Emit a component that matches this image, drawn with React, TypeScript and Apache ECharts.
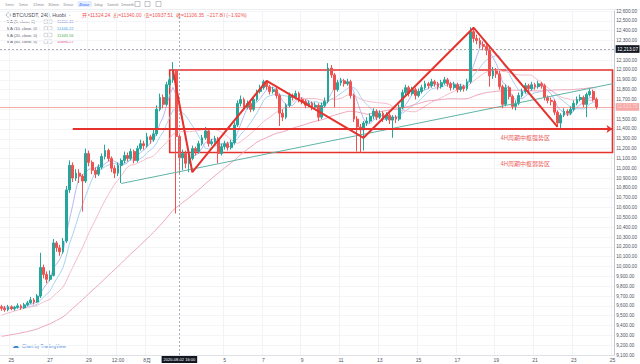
import React, { useEffect, useRef } from "react";
import * as echarts from "echarts";

// ---------- data (4H candles, BTC/USDT Huobi) ----------
// closes before the first visible candle (only used by the moving averages)
const priorCloses = [
  9270, 9260,
  9240, 9250, 9220, 9200, 9210, 9190,
  9180, 9150, 9120, 9130, 9110, 9140,
  9150, 9160, 9140, 9150, 9170, 9160,
  9170, 9180, 9190, 9170, 9160, 9180,
  9170, 9190, 9210, 9200, 9220, 9230,
  9210, 9180, 9160, 9150, 9170, 9160,
  9180, 9250, 9320, 9380, 9370, 9390,
  9400, 9380, 9420, 9500, 9530, 9520,
  9560, 9580, 9600, 9590, 9620, 9610,
  9600, 9580, 9570,
];

const firstOpen = 9590;

const closes = [
  9575, 9560, 9590, 9570, 9585, 9600, 9580, 9610, 9630, 9660,
  9640, 9700, 9990, 9920, 9870, 9910, 10240, 10190, 10150, 10260,
  10780, 11030, 10900, 10950, 10920, 10870, 11150, 11060, 10980, 10940,
  11010, 11120, 11180, 11100, 11000, 10950, 11030, 11080, 11130, 11100,
  11170, 11080, 11200, 11250, 11230, 11320, 11290, 11350, 11600, 11720,
  11650, 11850, 11900, 11990, 11324.24, 11106.35, 11150, 11050, 11100, 11200,
  11170, 11250, 11310, 11380, 11250, 11270, 11300, 11150, 11220, 11250,
  11210, 11260, 11440, 11660, 11700, 11620, 11660, 11600, 11700, 11780,
  11820, 11880, 11830, 11780, 11800, 11740, 11560, 11520, 11640, 11740,
  11720, 11760, 11700, 11680, 11640, 11660, 11620, 11640, 11520, 11640,
  11680, 12020, 11950, 11800, 11870, 11890, 11860, 11880, 11740, 11500,
  11420, 11390, 11460, 11480, 11530, 11580, 11520, 11560, 11500, 11540,
  11490, 11520, 11500, 11620, 11770, 11820, 11760, 11800, 11740, 11780,
  11820, 11860, 11840, 11880, 11860, 11830, 11870, 11900, 11860, 11820,
  11850, 11800, 11830, 11810, 11880, 12390, 12320, 12300, 12260, 12240,
  12200, 11940, 11990, 11960, 11830, 11650, 11820, 11730, 11630, 11660,
  11740, 11780, 11840, 11810, 11850, 11830, 11860, 11840, 11720, 11690,
  11680, 11570, 11460, 11540, 11580, 11560, 11600, 11660, 11700, 11720,
  11650, 11750, 11780, 11700, 11623.75,
];

const lows = [
  9550, 9540, 9545, 9555, 9550, 9570, 9560, 9570, 9595, 9620,
  9615, 9630, 9680, 9880, 9830, 9850, 9900, 10150, 10110, 10130,
  10240, 10750, 10860, 10870, 10850, 10560, 10850, 11020, 10940, 10900,
  10920, 10990, 11090, 11070, 10960, 10900, 10920, 10850, 11050, 11070,
  11080, 11050, 11060, 11180, 11190, 11210, 11250, 11270, 11330, 11580,
  11610, 11630, 11820, 11870, 10540, 10937.51, 10980, 11000, 10960, 11080,
  11130, 11150, 11230, 11290, 11220, 11230, 11250, 11050, 11130, 11190,
  11180, 11190, 11240, 11420, 11630, 11590, 11600, 11570, 11580, 11680,
  11760, 11800, 11800, 11750, 11760, 11710, 11430, 11480, 11500, 11620,
  11690, 11700, 11670, 11650, 11610, 11620, 11590, 11600, 11480, 11500,
  11620, 11660, 11920, 11620, 11780, 11840, 11830, 11840, 11710, 11470,
  11170, 11160, 11180, 11430, 11460, 11500, 11490, 11500, 11470, 11480,
  11450, 11310, 11460, 11480, 11600, 11740, 11730, 11740, 11700, 11720,
  11760, 11800, 11810, 11820, 11830, 11800, 11810, 11850, 11830, 11790,
  11800, 11770, 11780, 11780, 11790, 11860, 12280, 12260, 12220, 12200,
  12150, 11830, 11910, 11920, 11800, 11610, 11630, 11700, 11600, 11590,
  11640, 11720, 11760, 11780, 11790, 11800, 11810, 11810, 11690, 11660,
  11640, 11540, 11420, 11410, 11520, 11530, 11540, 11580, 11640, 11680,
  11620, 11520, 11730, 11680, 11600,
];

const highs = [
  9610, 9600, 9610, 9605, 9600, 9625, 9615, 9630, 9650, 9690,
  9680, 9720, 10140, 10020, 9950, 9960, 10280, 10260, 10220, 10290,
  10820, 11080, 11060, 10990, 10990, 10940, 11200, 11180, 11080, 11010,
  11040, 11150, 11240, 11200, 11120, 11030, 11060, 11100, 11170, 11160,
  11200, 11190, 11230, 11290, 11280, 11360, 11340, 11390, 11640, 11760,
  11750, 11880, 11940, 12080, 12010, 11340, 11190, 11180, 11130, 11230,
  11220, 11280, 11340, 11420, 11400, 11300, 11330, 11320, 11250, 11280,
  11270, 11290, 11470, 11690, 11740, 11720, 11690, 11680, 11720, 11800,
  11850, 11900, 11895, 11850, 11830, 11820, 11760, 11600, 11660, 11770,
  11760, 11790, 11780, 11720, 11700, 11690, 11680, 11670, 11660, 11670,
  11720, 12070, 12050, 11970, 11900, 11920, 11910, 11910, 11900, 11760,
  11530, 11450, 11480, 11520, 11560, 11610, 11600, 11590, 11580, 11570,
  11560, 11540, 11540, 11650, 11800, 11850, 11840, 11830, 11820, 11810,
  11850, 11890, 11880, 11910, 11900, 11880, 11900, 11930, 11920, 11880,
  11880, 11870, 11860, 11850, 11910, 12435, 12420, 12360, 12330, 12290,
  12270, 12230, 12030, 12020, 11990, 11850, 11850, 11840, 11750, 11690,
  11770, 11810, 11870, 11860, 11880, 11870, 11890, 11880, 11860, 11740,
  11720, 11700, 11590, 11560, 11610, 11600, 11630, 11690, 11730, 11750,
  11740, 11770, 11810, 11800, 11720,
];

// time axis
const firstCandleTime = Date.UTC(2020, 6, 24, 12, 0);
const slotCount = 190;
const xTickIdx = [3, 15, 27, 36, 45, 69, 81, 93, 105, 117, 129, 141, 153, 165, 177, 189];
const xTickText = ["25", "27", "29", "12:00", "8月", "5", "7", "9", "11", "13", "15", "17", "19", "21", "23", "25"];

// price axis
const yMin = 9100;
const yMax = 12600;
const yStep = 100;

// crosshair / header
const hoverIdx = 55;
const crosshairPrice = 12213.07;
const hoverTimeText = "2020-08-02 16:00";
const changeText = "−217.88 (−1.92%)";
const symbolText = "BTC/USDT, 240, Huobi  ·";

// moving averages
const maPeriods = [5, 10, 20, 60];
const maLegendValues = ["11400.46", "11444.22", "11343.56", "10890.27"];

// drawings
const zigzagIdx = [53, 59, 82, 112, 146, 172];
const zigzagPrice = [12000, 10960, 11890, 11310, 12430, 11420];
const trendIdx = [37, 189];
const trendPrice = [10845, 11860];
const boxIdx = [52, 189];
const boxPrice = [12000, 11160];
const arrowIdx = [22, 189];
const arrowPrice = 11400;
const noteIdx = [162, 162];
const notePrice = [11310, 11045];
const noteText = ["4H周期中枢强势区", "4H周期中枢弱势区"];

const toolbarItems = ["1min", "5min", "15min", "30min", "1hour", "4hour", "1day", "1week", "1month"];
const toolbarActive = 5;

// ---------- helpers ----------
const pad = (n: number) => String(n).padStart(2, "0");
const categories = Array.from({ length: slotCount }, (_, i) => {
  const d = new Date(firstCandleTime + i * 4 * 3600 * 1000);
  return `${d.getUTCFullYear()}-${pad(d.getUTCMonth() + 1)}-${pad(d.getUTCDate())} ${pad(d.getUTCHours())}:00`;
});
const fmt = (v: number) =>
  v.toLocaleString("en-US", { minimumFractionDigits: 2, maximumFractionDigits: 2 });

const candleData = closes.map((c, i) => [i === 0 ? firstOpen : closes[i - 1], c, lows[i], highs[i]]);

const allCloses = [...priorCloses, ...closes];
function movingAverage(n: number) {
  return closes.map((_, i) => {
    const end = i + priorCloses.length;
    if (end - n + 1 < 0) return null;
    let s = 0;
    for (let k = end - n + 1; k <= end; k++) s += allCloses[k];
    return +(s / n).toFixed(2);
  });
}

const FONT = "'Liberation Sans', 'Noto Sans CJK SC', sans-serif";
const UP = "#26a69a";
const DOWN = "#ef5350";
const DRAW_RED = "#e5322d";
const maLineColors = ["#b3baf0", "#a7d2f0", "#f5bccb", "#eea6bd"];
const maTextColors = ["#7076dc", "#4a9ddc", "#4caf50", "#d9438e"];

export default function App() {
  const ref = useRef<HTMLDivElement>(null);

  useEffect(() => {
    if (!ref.current) return;
    const chart = echarts.init(ref.current, undefined, { renderer: "svg" });

    const hv = candleData[hoverIdx];
    const ohlcText = `开=${hv[0].toFixed(2)}  高=${hv[3].toFixed(2)}  低=${hv[2].toFixed(2)}  收=${hv[1].toFixed(2)}  ${changeText}`;
    const lastClose = closes[closes.length - 1];
    // price-axis labels hidden where the last-price and crosshair tags sit
    const taggedPrices = [lastClose, crosshairPrice];

    const toolbarX = [5, 19, 33, 48, 63, 79, 94, 107, 121];
    const graphics: any[] = [];
    graphics.push({
      type: "line",
      shape: { x1: 0, y1: 9.5, x2: 640, y2: 9.5 },
      style: { stroke: "#eceef2", lineWidth: 1 },
      silent: true,
    });
    toolbarItems.forEach((t, k) => {
      const x = toolbarX[k];
      if (k === toolbarActive) {
        graphics.push({
          type: "rect",
          shape: { x: x - 1.5, y: 1, width: t.length * 2.3 + 3, height: 6, r: 1 },
          style: { fill: "#e3edff" },
          silent: true,
        });
      }
      graphics.push({
        type: "text",
        x,
        y: 4,
        style: {
          text: t,
          fontSize: 4,
          fontFamily: FONT,
          fill: k === toolbarActive ? "#2962ff" : "#8a8d96",
          verticalAlign: "middle",
        },
        silent: true,
      });
    });
    [135, 145, 156].forEach((x) => {
      graphics.push({
        type: "rect",
        shape: { x, y: 1.5, width: 5, height: 5 },
        style: { fill: "none", stroke: "#9a9da6", lineWidth: 0.6 },
        silent: true,
      });
    });

    graphics.push({
      type: "circle",
      shape: { cx: 8.5, cy: 15, r: 2.2 },
      style: { fill: "none", stroke: "#9a9da6", lineWidth: 0.7 },
      silent: true,
    });
    graphics.push({
      type: "text",
      x: 12.5,
      y: 15,
      style: { text: symbolText, fontSize: 5.2, fontFamily: FONT, fill: "#4a4d57", verticalAlign: "middle" },
      silent: true,
    });
    graphics.push({
      type: "text",
      x: 82,
      y: 15,
      style: { text: ohlcText, fontSize: 5, fontFamily: FONT, fill: DOWN, verticalAlign: "middle" },
      silent: true,
    });

    maPeriods.forEach((p, k) => {
      const y = 21.7 + k * 6.67;
      graphics.push({
        type: "text",
        x: 7,
        y,
        style: { text: `MA (${p}, close, 0)  ·`, fontSize: 4, fontFamily: FONT, fill: "#5d606b", verticalAlign: "middle" },
        silent: true,
      });
      [44, 48.5].forEach((bx) => {
        graphics.push({
          type: "rect",
          shape: { x: bx, y: y - 1.8, width: 3.5, height: 3.5 },
          style: { fill: "none", stroke: "#b0b3bb", lineWidth: 0.5 },
          silent: true,
        });
      });
      graphics.push({
        type: "text",
        x: 57,
        y,
        style: { text: maLegendValues[k], fontSize: 4, fontFamily: FONT, fill: maTextColors[k], verticalAlign: "middle" },
        silent: true,
      });
    });

    graphics.push({
      type: "text",
      x: 12,
      y: 346,
      style: { text: "☁", fontSize: 7, fontFamily: "'DejaVu Sans'", fill: "#3d85d8", verticalAlign: "middle" },
      silent: true,
    });
    graphics.push({
      type: "text",
      x: 22,
      y: 346,
      style: { text: "Chart by TradingView", fontSize: 4.6, fontFamily: FONT, fill: "#5a8fd6", verticalAlign: "middle" },
      silent: true,
    });

    const isTick = (index: number) => xTickIdx.indexOf(index) >= 0;

    const option: any = {
      animation: false,
      backgroundColor: "#ffffff",
      textStyle: { fontFamily: FONT },
      grid: { left: 0, right: 23, top: 11, bottom: 9 },
      xAxis: {
        type: "category",
        data: categories,
        boundaryGap: true,
        axisLine: { show: true, lineStyle: { color: "#dfe1e6", width: 1 } },
        axisTick: { show: false },
        axisLabel: {
          interval: (index: number) => isTick(index),
          formatter: (_v: string, index: number) => {
            const k = xTickIdx.indexOf(index);
            return k >= 0 ? xTickText[k] : "";
          },
          fontSize: 5,
          color: "#50535e",
          margin: 2.5,
        },
        splitLine: {
          show: true,
          interval: (index: number) => isTick(index),
          lineStyle: { color: "#f1f3f7", width: 1 },
        },
      },
      yAxis: {
        type: "value",
        position: "right",
        min: yMin,
        max: yMax,
        interval: yStep,
        axisLine: { show: true, lineStyle: { color: "#c4c7ce", width: 1 } },
        axisTick: { show: false },
        axisLabel: {
          fontSize: 4.7,
          color: "#50535e",
          margin: 2,
          formatter: (v: number) =>
            taggedPrices.some((t) => Math.abs(t - v) < 70) ? "" : fmt(v),
        },
        splitLine: { show: true, lineStyle: { color: "#f4f5f8", width: 1 } },
      },
      series: [
        {
          type: "candlestick",
          data: candleData,
          barWidth: "72%",
          z: 3,
          itemStyle: { color: UP, color0: DOWN, borderColor: UP, borderColor0: DOWN, borderWidth: 1 },
          markArea: {
            silent: true,
            itemStyle: { color: "rgba(0,0,0,0)", borderColor: DRAW_RED, borderWidth: 1.6 },
            data: [
              [
                { xAxis: categories[boxIdx[0]], yAxis: boxPrice[0] },
                { xAxis: categories[boxIdx[1]], yAxis: boxPrice[1] },
              ],
            ],
          },
          markLine: {
            silent: true,
            symbol: ["none", "none"],
            animation: false,
            data: [
              {
                yAxis: lastClose,
                lineStyle: { color: DOWN, width: 1, type: "solid", opacity: 0.5 },
                label: {
                  show: true,
                  position: "end",
                  formatter: fmt(lastClose),
                  backgroundColor: DOWN,
                  color: "#ffffff",
                  fontSize: 4.7,
                  padding: [1.5, 1.5],
                  distance: 1.5,
                },
              },
              {
                yAxis: crosshairPrice,
                lineStyle: { color: "#9598a1", width: 0.8, type: [2, 2] },
                label: {
                  show: true,
                  position: "end",
                  formatter: fmt(crosshairPrice),
                  backgroundColor: "#131722",
                  color: "#ffffff",
                  fontSize: 4.7,
                  padding: [1.5, 1.5],
                  distance: 1.5,
                },
              },
              {
                xAxis: categories[hoverIdx],
                lineStyle: { color: "#9598a1", width: 0.8, type: [2, 2] },
                label: {
                  show: true,
                  position: "start",
                  formatter: hoverTimeText,
                  backgroundColor: "#131722",
                  color: "#ffffff",
                  fontSize: 4,
                  padding: [1.5, 2],
                  distance: 1,
                },
              },
            ],
          },
        },
        ...maPeriods.map((p, k) => ({
          type: "line",
          name: `MA${p}`,
          data: movingAverage(p),
          symbol: "none",
          showSymbol: false,
          silent: true,
          z: 2,
          lineStyle: { color: maLineColors[k], width: 1 },
        })),
        {
          type: "line",
          name: "trend",
          data: trendIdx.map((k, j) => [categories[k], trendPrice[j]]),
          symbol: "none",
          silent: true,
          z: 4,
          lineStyle: { color: "#5fb3a6", width: 1 },
        },
        {
          type: "line",
          name: "zigzag",
          data: zigzagIdx.map((k, j) => [categories[k], zigzagPrice[j]]),
          symbol: "none",
          silent: true,
          z: 5,
          lineStyle: { color: DRAW_RED, width: 2 },
          markLine: {
            silent: true,
            symbol: ["none", "arrow"],
            symbolSize: 6,
            animation: false,
            label: { show: false },
            lineStyle: { color: DRAW_RED, width: 2, type: "solid" },
            data: [
              [
                { coord: [categories[arrowIdx[0]], arrowPrice] },
                { coord: [categories[arrowIdx[1]], arrowPrice] },
              ],
            ],
          },
        },
        {
          type: "scatter",
          name: "notes",
          data: noteIdx.map((k, j) => ({
            value: [categories[k], notePrice[j]],
            label: { formatter: noteText[j] },
          })),
          symbolSize: 1,
          silent: true,
          z: 6,
          itemStyle: { color: "rgba(0,0,0,0)" },
          label: {
            show: true,
            position: "inside",
            color: DRAW_RED,
            fontSize: 6,
            fontFamily: "'Noto Sans CJK SC', sans-serif",
          },
        },
      ],
      graphic: graphics,
    };

    chart.setOption(option);
    return () => chart.dispose();
  }, []);

  return (
    <div
      ref={ref}
      style={{ position: "fixed", left: 0, top: 0, width: 640, height: 364, background: "#ffffff" }}
    />
  );
}
